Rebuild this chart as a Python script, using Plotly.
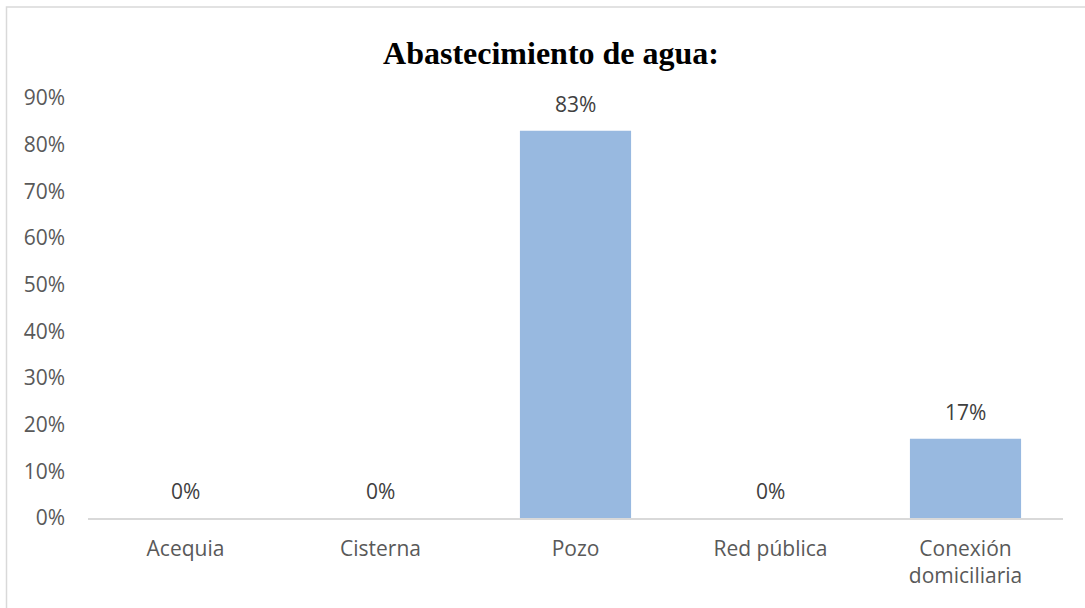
import plotly.graph_objects as go

categorias = ["Acequia", "Cisterna", "Pozo", "Red pública", "Conexión<br>domiciliaria"]
valores = [0.0, 0.0, 0.83, 0.0, 0.17]
etiquetas = ["0%", "0%", "83%", "0%", "17%"]
ticks_y = [0, 0.1, 0.2, 0.3, 0.4, 0.5, 0.6, 0.7, 0.8, 0.9]
ticks_texto = ["0%", "10%", "20%", "30%", "40%", "50%", "60%", "70%", "80%", "90%"]

W, H = 1085, 608
ML, MR, MT, MB = 88, 22, 98, 90
PW, PH = W - ML - MR, H - MT - MB

FUENTE = "'Open Sans', Lato, sans-serif"
TAM = 21

fig = go.Figure()
fig.add_trace(go.Bar(
    x=categorias, y=valores,
    marker=dict(color="#98b9e0", line=dict(width=0)),
    hoverinfo="skip",
))

for c, v, t in zip(categorias, valores, etiquetas):
    fig.add_annotation(
        x=c, y=v, text=t, showarrow=False,
        xref="x", yref="y", yanchor="bottom", yshift=11,
        font=dict(family=FUENTE, size=TAM, color="#404040"),
    )

# outer chart border (extends past the right and bottom edges)
def px_x(p):
    return (p - ML) / PW

def px_y(p):
    return (H - MB - p) / PH

fig.add_shape(
    type="rect", xref="paper", yref="paper",
    x0=px_x(6.5), x1=px_x(1095), y0=px_y(7), y1=px_y(620),
    line=dict(color="#d9d9d9", width=1.5), fillcolor="rgba(0,0,0,0)", layer="below",
)

fig.update_layout(
    width=W, height=H,
    margin=dict(l=ML, r=MR, t=MT, b=MB, pad=0),
    paper_bgcolor="white", plot_bgcolor="white",
    bargap=0.43,
    showlegend=False,
    title=dict(
        text="<b>Abastecimiento de agua:</b>",
        x=551 / W, xanchor="center", y=1 - 53 / H, yanchor="middle",
        font=dict(family="'Liberation Serif', 'Times New Roman', serif", size=32, color="#000000"),
    ),
    xaxis=dict(
        showgrid=False, zeroline=False, showline=True, linecolor="#d9d9d9", linewidth=1.5,
        ticks="", tickfont=dict(family=FUENTE, size=TAM, color="#595959"),
        ticklabelstandoff=11,
    ),
    yaxis=dict(
        range=[0, 0.9], tickvals=ticks_y, ticktext=ticks_texto,
        showgrid=False, zeroline=False, showline=False, ticks="",
        tickfont=dict(family=FUENTE, size=TAM, color="#595959"),
        ticklabelstandoff=22,
    ),
)

fig.write_html("out.html")
